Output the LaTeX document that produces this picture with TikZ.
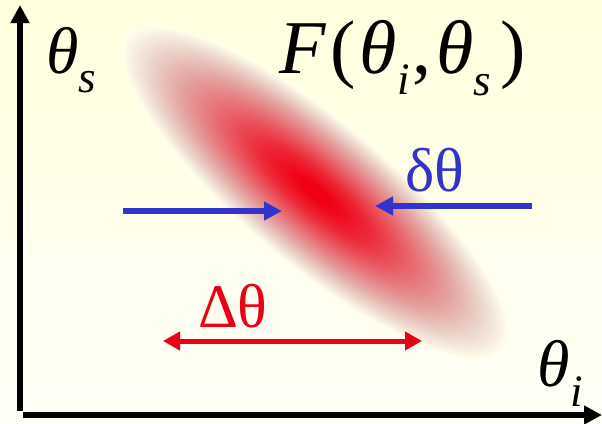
\documentclass[tikz,border=0pt]{standalone}
\usepackage{fontspec}
\setmainfont{Liberation Serif}
\usetikzlibrary{arrows.meta}
\definecolor{bgtop}{RGB}{255,255,222}
\definecolor{bgbot}{RGB}{255,255,247}
\definecolor{bgmid}{RGB}{255,255,236}
\definecolor{arrblue}{RGB}{51,51,204}
\definecolor{arrred}{RGB}{235,0,22}
\definecolor{blobA}{RGB}{240,0,20}
\definecolor{blobB}{RGB}{237,40,55}
\definecolor{blobC}{RGB}{232,105,112}
\definecolor{blobD}{RGB}{228,165,162}
\definecolor{blobE}{RGB}{236,214,204}
\pgfdeclareradialshading{blob}{\pgfpoint{0bp}{0bp}}{color(0bp)=(blobA); color(2bp)=(blobA); color(7bp)=(blobB); color(12.5bp)=(blobC); color(17.5bp)=(blobD); color(21.5bp)=(blobE); color(25bp)=(bgmid); color(50bp)=(bgmid)}
\tikzset{
  axis/.style={line width=6pt, -{Triangle[length=18pt,width=18pt]}},
  barrow/.style={arrblue, line width=5.5pt, -{Triangle[length=18pt,width=18pt]}},
  rarrow/.style={arrred, line width=5pt, {Triangle[length=17pt,width=18pt]}-{Triangle[length=17pt,width=18pt]}},
  lbl/.style={inner sep=0pt, outer sep=0pt, anchor=base west},
}
\newcommand{\bigfs}{\fontsize{66}{66}\selectfont}
\newcommand{\subfs}{\fontsize{45}{45}\selectfont}
\newcommand{\Ffs}{\fontsize{76}{76}\selectfont}
\begin{document}
\begin{tikzpicture}[x=1pt,y=-1pt]
\useasboundingbox (0,0) rectangle (602,423);
\shade[top color=bgtop, bottom color=bgbot] (0,0) rectangle (602,423);
% blob
\begin{scope}[transform canvas={shift={(315,192)}, rotate=-40}]
  \shade[shading=blob] (0,0) ellipse [x radius=245, y radius=72];
\end{scope}
% axes
\coordinate (yb) at (20,411);
\coordinate (yt) at (20,5);
\coordinate (xl) at (23,415);
\coordinate (xr) at (602,415);
\draw[axis] (yb) -- (yt);
\draw[axis] (xl) -- (xr);
% blue arrows
\coordinate (b1s) at (123,211);
\coordinate (b1e) at (282,211);
\coordinate (b2s) at (532,206);
\coordinate (b2e) at (375,206);
\draw[barrow] (b1s) -- (b1e);
\draw[barrow] (b2s) -- (b2e);
% red arrow
\coordinate (r1) at (163,341);
\coordinate (r2) at (422,341);
\draw[rarrow] (r1) -- (r2);
% labels
\node[lbl] (ths) at (46,73) {\bigfs\textit{θ}\raisebox{-19pt}{\subfs\textit{s}}};
\node[lbl] (thi) at (537,386) {\bigfs\textit{θ}\kern1pt\raisebox{-20pt}{\subfs\textit{i}}};
\node[lbl] (F) at (279,73) {\Ffs\textit{F}\kern4pt(\kern4pt\textit{θ}\kern1pt\raisebox{-21pt}{\subfs\textit{i}}\kern2pt,\kern5pt\textit{θ}\raisebox{-22pt}{\subfs\textit{s}}\kern9pt)};
\node[lbl, text=arrblue] (dth) at (405,191) {\fontsize{62}{62}\selectfont δθ};
\node[lbl, text=arrred] (Dth) at (198,327) {\fontsize{62}{62}\selectfont Δθ};
\end{tikzpicture}
\end{document}
